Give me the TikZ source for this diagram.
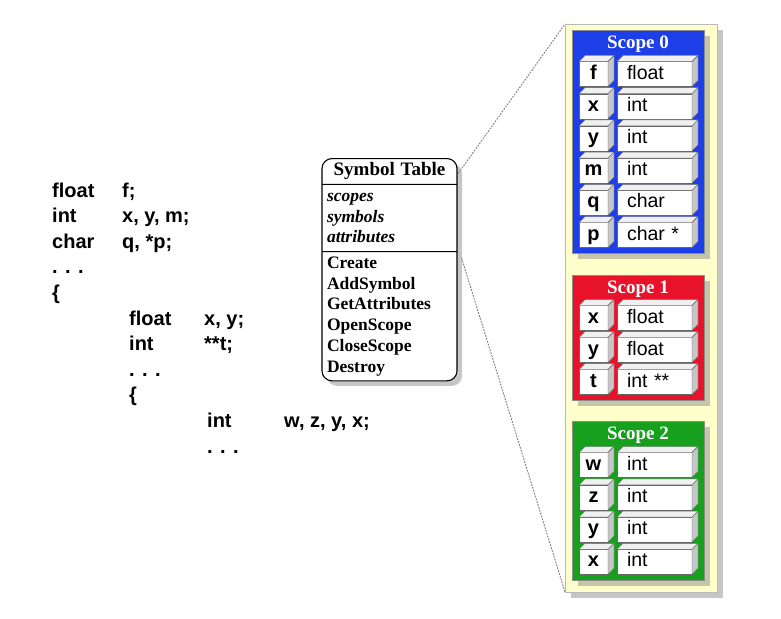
\documentclass[tikz,border=0pt]{standalone}
\usepackage{fontspec}
\setmainfont{Liberation Serif}
\setsansfont{Liberation Sans}
\usetikzlibrary{shapes.multipart,shadows}

\definecolor{scopeblue}{RGB}{30,62,232}
\definecolor{scopered}{RGB}{232,18,42}
\definecolor{scopegreen}{RGB}{22,160,30}
\definecolor{panelyellow}{RGB}{255,255,204}

\begin{document}
\begin{tikzpicture}[x=1pt,y=-1pt,line cap=round,line join=round,
  code/.style={anchor=base west,inner sep=0pt,font=\sffamily\bfseries\fontsize{20}{24}\selectfont},
  shade/.style={drop shadow={shadow xshift=6pt,shadow yshift=-6pt,opacity=.45}},
  panelbox/.style={draw=gray!55,fill=panelyellow,inner sep=0pt,outer sep=0pt,
    minimum width=152,minimum height=568,shade},
  scopebox/.style={draw=black!45,inner sep=0pt,outer sep=0pt,minimum width=132,shade},
  scopetitle/.style={anchor=base,text=white,inner sep=0pt,font=\bfseries\fontsize{19}{20}\selectfont},
  cell/.style={draw=black!60,fill=white,inner ysep=0pt,outer sep=0pt,minimum height=25,
    text height=14,text depth=4},
  keycell/.style={cell,inner xsep=0pt,minimum width=29,font=\sffamily\bfseries\fontsize{20}{24}\selectfont},
  typecell/.style={cell,inner xsep=10,text width=55,align=left,font=\sffamily\fontsize{19.5}{24}\selectfont},
  topface/.style={draw=black!60,fill=gray!12},
  sideface/.style={draw=black!60,fill=gray!45},
  symtab/.style={rectangle split,rectangle split parts=3,draw,line width=1.1pt,
    rounded corners=10pt,fill=white,text width=125,inner xsep=5,inner ysep=2,align=left,
    font=\bfseries\fontsize{17.5}{20.7}\selectfont,
    drop shadow={shadow xshift=5pt,shadow yshift=-5pt,opacity=.45}},
  connector/.style={dash pattern=on 1.2pt off 1.8pt,gray,line width=1pt}]
  \useasboundingbox (0,0) rectangle (781,618);

  % source code
  \foreach \x/\y/\t [count=\i] in {52/197/float, 122/197/f;,
      52/222.6/int, 122/222.6/{x, y, m;},
      52/248.2/char, 122/248.2/{q, *p;},
      52/273.8/{. . .}, 52/299.4/\{,
      129/325/float, 204/325/{x, y;},
      129/350.6/int, 204/350.6/**t;,
      129/376.2/{. . .}, 129/401.8/\{,
      207/427.4/int, 284/427.4/{w, z, y, x;},
      207/453/{. . .}}
    \node[code] (l\i) at (\x,\y) {\t};

  % symbol table class
  \node[symtab,anchor=north] (table) at (389.5,158)
    {\hfill\fontsize{19}{20.7}\selectfont Symbol Table\hfill\strut
     \nodepart{two}\itshape scopes\strut\\ symbols\strut\\ attributes\strut
     \nodepart{three}Create\strut\\ AddSymbol\strut\\ GetAttributes\strut\\
       OpenScope\strut\\ CloseScope\strut\\ Destroy\strut};

  % scope stack
  \node[panelbox] (panel) at (641,308) {};
  \node[scopebox,fill=scopeblue,minimum height=223] (scope0) at (638,141.5) {};
  \node[scopebox,fill=scopered,minimum height=125] (scope1) at (638,337.5) {};
  \node[scopebox,fill=scopegreen,minimum height=159] (scope2) at (638,500.5) {};
  \foreach \s in {0,1,2}
    \node[scopetitle] (title\s) at ([shift={(0,18.5)}]scope\s.north) {Scope \s};

  \foreach \k/\t [count=\i] in {f/float, x/int, y/int, m/int, q/char, p/char *} {
    \node[keycell] (s0k\i) at (593.5,{74+32.2*(\i-1)}) {\k};
    \node[typecell] (s0t\i) at (654.5,{74+32.2*(\i-1)}) {\t};
  }
  \foreach \k/\t [count=\i] in {x/float, y/float, t/int **} {
    \node[keycell] (s1k\i) at (593.5,{318+32*(\i-1)}) {\k};
    \node[typecell] (s1t\i) at (654.5,{318+32*(\i-1)}) {\t};
  }
  \foreach \k/\t [count=\i] in {w/int, z/int, y/int, x/int} {
    \node[keycell] (s2k\i) at (593.5,{465+32.3*(\i-1)}) {\k};
    \node[typecell] (s2t\i) at (654.5,{465+32.3*(\i-1)}) {\t};
  }

  % 3d faces of the cells
  \foreach \s/\n in {0/6,1/3,2/4}
    \foreach \i in {1,...,\n}
      \foreach \c in {k,t} {
        \filldraw[topface] (s\s\c\i.north west) -- ++(6,-6)
          -- ([shift={(6,-6)}]s\s\c\i.north east) -- (s\s\c\i.north east) -- cycle;
        \filldraw[sideface] (s\s\c\i.north east) -- ++(6,-6)
          -- ([shift={(6,-6)}]s\s\c\i.south east) -- (s\s\c\i.south east) -- cycle;
      }

  \draw[connector] ([shift={(1,15)}]table.north east) -- (panel.north west);
  \draw[connector] ([shift={(4,100)}]table.north east) -- (panel.south west);
\end{tikzpicture}
\end{document}
